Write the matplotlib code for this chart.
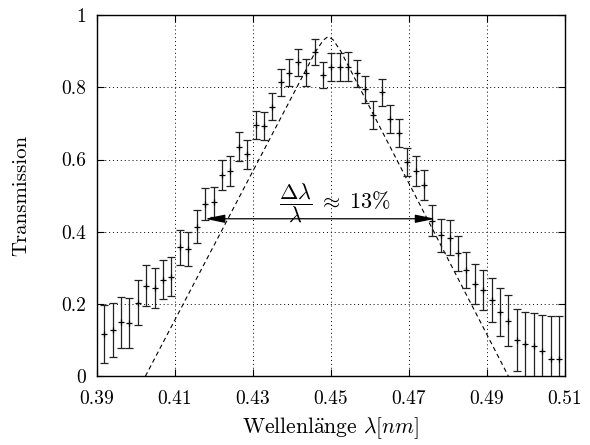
import numpy as np
import matplotlib
matplotlib.use("Agg")
import matplotlib.pyplot as plt
from matplotlib.ticker import FuncFormatter

plt.rcParams["font.family"] = "serif"
plt.rcParams["font.serif"] = ["cmr10", "DejaVu Serif"]
plt.rcParams["mathtext.fontset"] = "cm"
plt.rcParams["axes.formatter.use_mathtext"] = True

# measured transmission with errors
wavelength = [0.3918, 0.3940, 0.3961, 0.3983, 0.4004, 0.4026, 0.4048, 0.4069, 0.4091, 0.4112,
              0.4134, 0.4156, 0.4177, 0.4199, 0.4220, 0.4242, 0.4264, 0.4285, 0.4307, 0.4328,
              0.4350, 0.4372, 0.4393, 0.4415, 0.4436, 0.4458, 0.4480, 0.4501, 0.4523, 0.4544,
              0.4566, 0.4588, 0.4609, 0.4631, 0.4652, 0.4674, 0.4696, 0.4717, 0.4739, 0.4760,
              0.4782, 0.4804, 0.4825, 0.4847, 0.4868, 0.4890, 0.4912, 0.4933, 0.4955, 0.4976,
              0.4998, 0.5020, 0.5041, 0.5063, 0.5084]
transmission = [0.117, 0.128, 0.149, 0.147, 0.204, 0.251, 0.245, 0.267, 0.276, 0.357,
                0.352, 0.414, 0.477, 0.483, 0.557, 0.568, 0.636, 0.615, 0.695, 0.693,
                0.746, 0.814, 0.840, 0.869, 0.840, 0.898, 0.834, 0.856, 0.857, 0.857,
                0.839, 0.794, 0.723, 0.786, 0.712, 0.673, 0.593, 0.569, 0.529, 0.431,
                0.390, 0.384, 0.340, 0.294, 0.255, 0.239, 0.211, 0.177, 0.154, 0.100,
                0.089, 0.084, 0.070, 0.047, 0.047]
error = [0.081, 0.074, 0.070, 0.070, 0.062, 0.056, 0.056, 0.054, 0.054, 0.049,
         0.047, 0.046, 0.044, 0.042, 0.042, 0.041, 0.040, 0.040, 0.039, 0.039,
         0.038, 0.037, 0.037, 0.038, 0.037, 0.036, 0.036, 0.038, 0.039, 0.040,
         0.037, 0.037, 0.038, 0.038, 0.039, 0.039, 0.040, 0.041, 0.042, 0.043,
         0.046, 0.048, 0.049, 0.051, 0.055, 0.055, 0.062, 0.066, 0.071, 0.085,
         0.090, 0.092, 0.100, 0.120, 0.120]

# theoretical curve (triangle with rounded tip)
theory_x = [0.4024, 0.4460, 0.4480, 0.4492, 0.4505, 0.4525, 0.4955]
theory_y = [0.0, 0.898, 0.930, 0.940, 0.932, 0.900, 0.0]

fig = plt.figure(figsize=(5.9, 4.45), dpi=100)
ax = fig.add_axes([0.1644, 0.1544, 0.7932, 0.8119])

ax.errorbar(wavelength, transmission, yerr=error, fmt="+", color="black",
            ecolor="#222222", elinewidth=0.9, capsize=3.2, capthick=0.9,
            markersize=5, markeredgewidth=0.9, zorder=3)
ax.plot(theory_x, theory_y, color="black", linestyle=(0, (4, 3)), linewidth=0.8, zorder=2)

ax.annotate("", xy=(0.4177, 0.436), xytext=(0.4767, 0.436),
            arrowprops=dict(arrowstyle="<|-|>,head_length=1.2,head_width=0.25",
                            color="black", lw=0.9, shrinkA=0, shrinkB=0))
ax.text(0.4511, 0.480, r"$\dfrac{\Delta\lambda}{\lambda}\;\approx\;13\%$",
        ha="center", va="center", fontsize=16)

ax.set_xlim(0.39, 0.51)
ax.set_ylim(0, 1)
ax.set_xticks([0.39, 0.41, 0.43, 0.45, 0.47, 0.49, 0.51])
ax.set_yticks([0, 0.2, 0.4, 0.6, 0.8, 1.0])
ax.xaxis.set_major_formatter(FuncFormatter(lambda v, p: "%.2f" % v))
ax.yaxis.set_major_formatter(FuncFormatter(lambda v, p: "%g" % v))
ax.tick_params(direction="in", length=5, width=0.8, labelsize=14,
               top=True, right=True)
ax.tick_params(axis="x", pad=10)
ax.tick_params(axis="y", pad=8)
ax.grid(True, color="black", linestyle=(0, (1, 3)), linewidth=0.7)
for s in ax.spines.values():
    s.set_linewidth(1.0)

ax.set_xlabel(r"Wellenl$\mathrm{\ddot{a}}$nge $\lambda[nm]$", fontsize=15.5, labelpad=5)
ax.set_ylabel("Transmission", fontsize=15, labelpad=22)

fig.savefig("out.png", dpi=100)
